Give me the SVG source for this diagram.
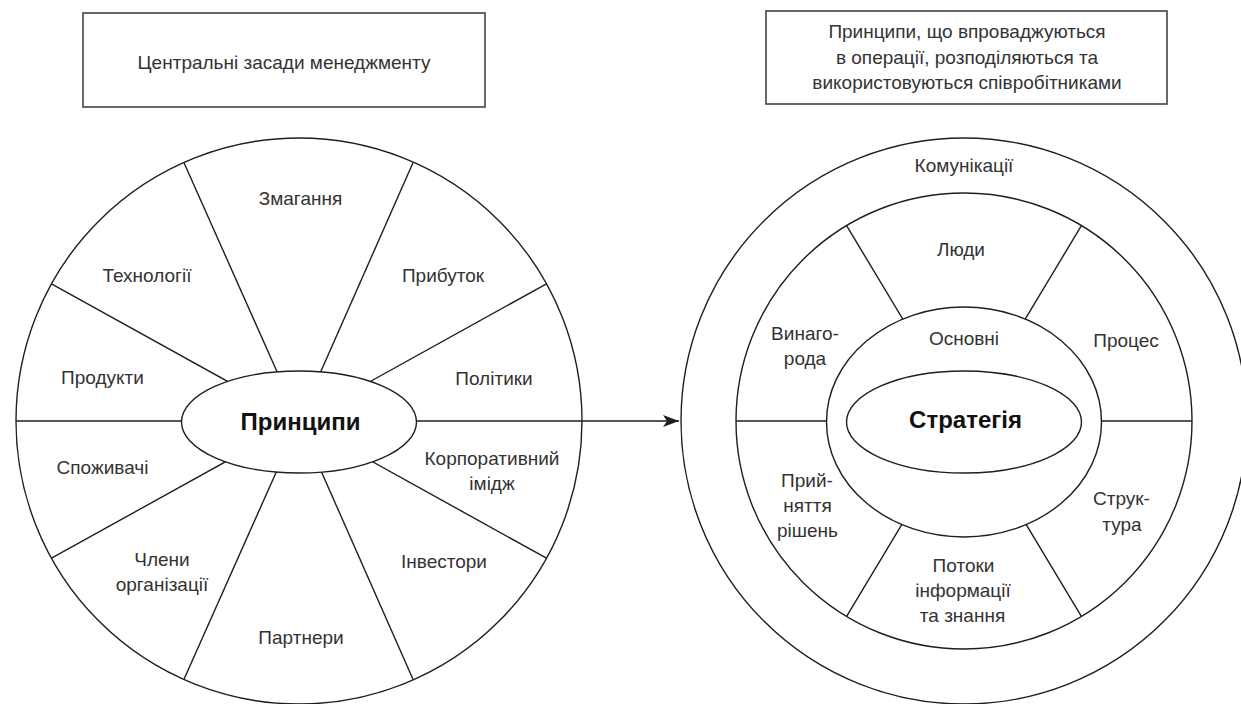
<svg xmlns="http://www.w3.org/2000/svg" width="1241" height="704" viewBox="0 0 1241 704">
<defs>
<style>
.ln{stroke:#1e1e1e;stroke-width:1.4;fill:none}
.sh{stroke:#1e1e1e;stroke-width:1.4;fill:#fff}
.box{stroke:#444;stroke-width:1.6;fill:#fff}
.t{font-family:"Liberation Sans",Arial,sans-serif;font-size:19px;fill:#333;text-anchor:middle}
.b{font-family:"Liberation Sans",Arial,sans-serif;font-size:24px;font-weight:bold;fill:#111;text-anchor:middle}
</style>
<marker id="ah" viewBox="0 0 16 12" refX="16" refY="6" markerWidth="16" markerHeight="12" markerUnits="userSpaceOnUse" orient="auto"><path d="M0,0 L16,6 L0,12 L4,6 Z" fill="#1e1e1e"/></marker>
</defs>
<rect width="1241" height="704" fill="#fff"/>

<g id="box-core">
<rect class="box" x="83" y="13" width="402" height="94"/>
<text class="t" x="284" y="69">Центральні засади менеджменту</text>
</g>

<g id="box-impl">
<rect class="box" x="766" y="11" width="401" height="93"/>
<text class="t" x="967" y="37.5">Принципи, що впроваджуються</text>
<text class="t" x="967" y="63.5">в операції, розподіляються та</text>
<text class="t" x="967" y="89">використовуються співробітниками</text>
</g>

<g id="wheel-principles">
<circle class="sh" cx="299" cy="421" r="283"/>
<g class="ln">
<line x1="183.9" y1="162.5" x2="299" y2="421"/>
<line x1="413.1" y1="162.5" x2="299" y2="421"/>
<line x1="546.5" y1="283.8" x2="299" y2="421"/>
<line x1="51.5" y1="283.8" x2="299" y2="421"/>
<line x1="51.5" y1="558.2" x2="299" y2="421"/>
<line x1="546.5" y1="558.2" x2="299" y2="421"/>
<line x1="183.9" y1="679.5" x2="299" y2="421"/>
<line x1="413.1" y1="679.5" x2="299" y2="421"/>
<line x1="16" y1="421" x2="582" y2="421"/>
</g>
<g id="core-principles">
<ellipse class="sh" cx="299" cy="422" rx="117.5" ry="51"/>
<text class="b" x="300.5" y="430">Принципи</text>
</g>
<text class="t" x="300.5" y="205">Змагання</text>
<text class="t" x="147" y="282">Технології</text>
<text class="t" x="443" y="282">Прибуток</text>
<text class="t" x="102.5" y="383.5">Продукти</text>
<text class="t" x="494" y="385">Політики</text>
<text class="t" x="492" y="464.5">Корпоративний</text>
<text class="t" x="492" y="489.5">імідж</text>
<text class="t" x="102.5" y="474">Споживачі</text>
<text class="t" x="162" y="565.5">Члени</text>
<text class="t" x="162" y="590.5">організації</text>
<text class="t" x="444" y="567.5">Інвестори</text>
<text class="t" x="301" y="644">Партнери</text>
</g>

<g id="wheel-strategy">
<circle class="sh" cx="964" cy="421" r="283"/>
<text class="t" x="964" y="171.5">Комунікації</text>
<circle class="sh" cx="964" cy="421" r="228"/>
<g class="ln">
<line x1="846.6" y1="225.6" x2="964" y2="421"/>
<line x1="1081.4" y1="225.6" x2="964" y2="421"/>
<line x1="846.6" y1="616.4" x2="964" y2="421"/>
<line x1="1081.4" y1="616.4" x2="964" y2="421"/>
<line x1="736" y1="421" x2="1192" y2="421"/>
</g>
<text class="t" x="961" y="255.5">Люди</text>
<text class="t" x="805" y="339.5">Винаго-</text>
<text class="t" x="805" y="364.5">рода</text>
<text class="t" x="1126" y="347">Процес</text>
<text class="t" x="807" y="486.5">Прий-</text>
<text class="t" x="807.5" y="511.5">няття</text>
<text class="t" x="807.5" y="536.5">рішень</text>
<text class="t" x="1121.5" y="505">Струк-</text>
<text class="t" x="1122" y="530.5">тура</text>
<text class="t" x="963.5" y="571.5">Потоки</text>
<text class="t" x="963" y="596.5">інформації</text>
<text class="t" x="962.5" y="621.5">та знання</text>
<g id="core-basic">
<ellipse class="sh" cx="964" cy="422" rx="137.5" ry="115"/>
<text class="t" x="964" y="344.5">Основні</text>
</g>
<g id="core-strategy">
<ellipse class="sh" cx="964" cy="422" rx="117.5" ry="51"/>
<text class="b" x="965.5" y="428">Стратегія</text>
</g>
</g>

<g id="connectors">
<line class="ln" x1="582" y1="421" x2="679" y2="421" marker-end="url(#ah)"/>
</g>
</svg>
